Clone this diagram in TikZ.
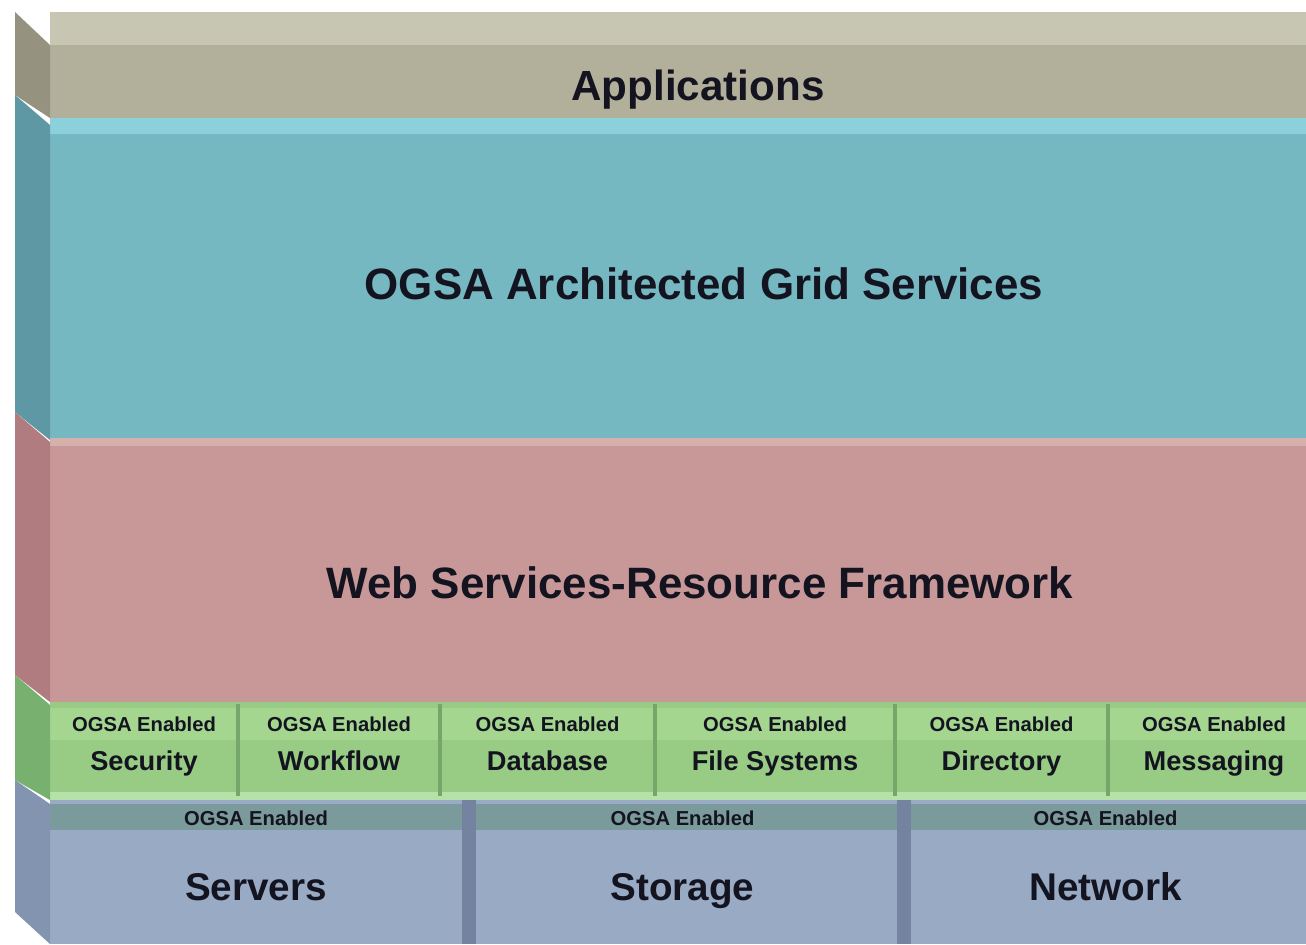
\documentclass[tikz,border=0pt]{standalone}
\usepackage{fontspec}
\setmainfont{Liberation Sans}

\definecolor{apptop}{RGB}{198,198,178}
\definecolor{appfront}{RGB}{178,176,155}
\definecolor{appside}{RGB}{150,146,128}
\definecolor{gridtop}{RGB}{140,208,220}
\definecolor{gridfront}{RGB}{118,184,194}
\definecolor{gridside}{RGB}{94,152,164}
\definecolor{wsrftop}{RGB}{214,176,170}
\definecolor{wsrffront}{RGB}{200,152,152}
\definecolor{wsrfside}{RGB}{176,124,128}
\definecolor{svcfront}{RGB}{152,204,132}
\definecolor{svcband}{RGB}{164,214,144}
\definecolor{svcline}{RGB}{118,166,106}
\definecolor{svclow}{RGB}{182,226,170}
\definecolor{svcside}{RGB}{120,176,112}
\definecolor{resfront}{RGB}{152,170,196}
\definecolor{resband}{RGB}{122,154,156}
\definecolor{resside}{RGB}{130,148,176}
\definecolor{resgap}{RGB}{116,132,160}
\definecolor{txtdark}{RGB}{20,20,32}

\tikzset{
  lbl/.style={text=txtdark, inner sep=0pt, anchor=base, font=\bfseries\fontsize{25}{28}\selectfont},
  tag/.style={text=txtdark, inner sep=0pt, anchor=base, font=\bfseries\fontsize{11.5}{13}\selectfont},
  svc/.style={text=txtdark, inner sep=0pt, anchor=base, font=\bfseries\fontsize{15.5}{18}\selectfont},
  res/.style={text=txtdark, inner sep=0pt, anchor=base, font=\bfseries\fontsize{22}{25}\selectfont}
}

\begin{document}
\begin{tikzpicture}[x=0.02cm, y=-0.02cm]
        \useasboundingbox[fill=white] (0,0) rectangle (1306,944);
        % applications
        \fill[appfront] (50,12) rectangle (1306,118);
        \fill[apptop] (50,12) rectangle (1306,45);
        \fill[appside] (15,12) -- (50,45) -- (50,118) -- (15,95) -- cycle;
        \node (apps) at (698,100) [lbl, font=\bfseries\fontsize{24}{27}\selectfont] {Applications};
        % grid services
        \fill[gridfront] (50,118) rectangle (1306,440);
        \fill[gridtop] (50,118) rectangle (1306,134);
        \fill[gridside] (15,95) -- (50,125) -- (50,440) -- (15,412) -- cycle;
        \node (grid) at (704,299) [lbl] {OGSA Architected Grid Services};
        % wsrf
        \fill[wsrffront] (50,440) rectangle (1306,702);
        \fill[wsrftop] (50,438) rectangle (1306,446);
        \fill[wsrfside] (15,412) -- (50,442) -- (50,702) -- (15,675) -- cycle;
        \node (wsrf) at (700,598) [lbl] {Web Services-Resource Framework};
        % services row
        \fill[svcfront] (50,702) rectangle (1306,800);
        \fill[svcband] (50,708) rectangle (1306,740);
        \fill[svclow] (50,792) rectangle (1306,800);
        \fill[svcside] (15,675) -- (50,705) -- (50,800) -- (15,780) -- cycle;
        \foreach \xa/\xb/\name [count=\i] in {50/238/Security, 238/440/Workflow, 440/655/Database, 655/895/File Systems, 895/1108/Directory, 1108/1320/Messaging} {
          \ifnum\i>1 \fill[svcline] (\xa-2,704) rectangle (\xa+2,796); \fi
          \node (tag\i) at ({(\xa+\xb)/2},731) [tag] {OGSA Enabled};
          \node (svc\i) at ({(\xa+\xb)/2},770) [svc] {\name};
        }
        % resources row
        \fill[resfront] (50,800) rectangle (1306,944);
        \fill[resband] (50,804) rectangle (1306,830);
        \fill[resside] (15,780) -- (50,804) -- (50,944) -- (15,912) -- cycle;
        \foreach \xa/\xb/\name [count=\i] in {50/462/Servers, 470/895/Storage, 905/1306/Network} {
          \ifnum\i>1 \fill[resgap] (\xa-8,800) rectangle (\xa+6,944); \fi
          \node (rtag\i) at ({(\xa+\xb)/2},825) [tag] {OGSA Enabled};
          \node (res\i) at ({(\xa+\xb)/2},900) [res] {\name};
        }
\end{tikzpicture}
\end{document}
